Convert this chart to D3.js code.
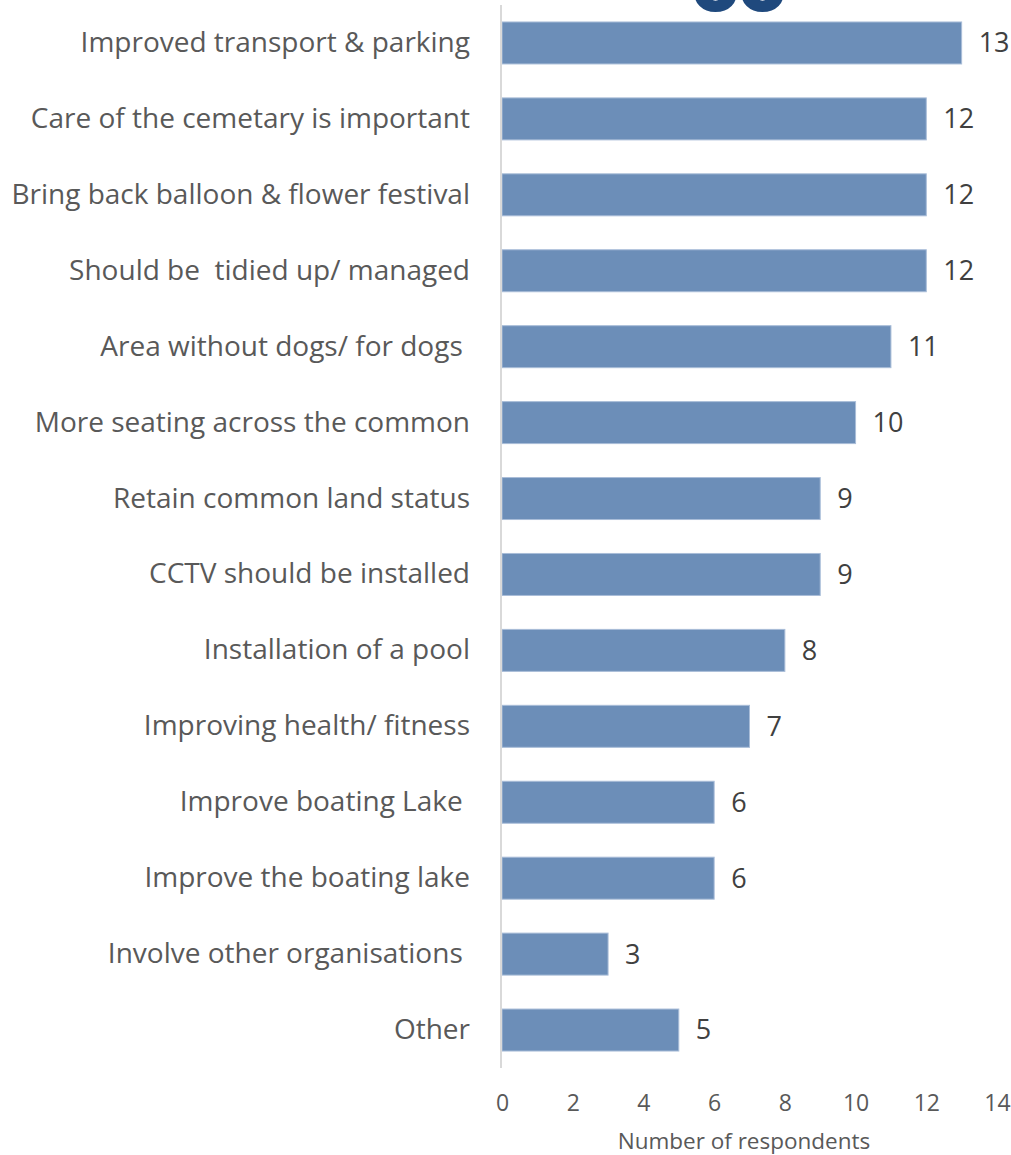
<!DOCTYPE html>
<html>
<head>
<meta charset="utf-8">
<script src="https://cdn.jsdelivr.net/npm/d3@7"></script>
<style>
  html, body { margin: 0; padding: 0; background: #ffffff; }
  svg { display: block; }
  text { font-family: "Open Sans", sans-serif; }
</style>
</head>
<body>
<script>
const categories = [
  "Improved transport & parking",
  "Care of the cemetary is important",
  "Bring back balloon & flower festival",
  "Should be  tidied up/ managed",
  "Area without dogs/ for dogs ",
  "More seating across the common",
  "Retain common land status",
  "CCTV should be installed",
  "Installation of a pool",
  "Improving health/ fitness",
  "Improve boating Lake ",
  "Improve the boating lake",
  "Involve other organisations ",
  "Other"
];
const values = [13, 12, 12, 12, 11, 10, 9, 9, 8, 7, 6, 6, 3, 5];
const xTicks = [0, 2, 4, 6, 8, 10, 12, 14];
const xTitle = "Number of respondents";

const W = 1011, H = 1155;
const svg = d3.select("body").append("svg").attr("width", W).attr("height", H);

// partially visible title glyphs at the top (cut off in the reference)
svg.append("text")
  .attr("x", 737).attr("y", 11)
  .attr("text-anchor", "middle")
  .attr("font-size", 80).attr("font-weight", 800)
  .attr("fill", "#1f497d")
  .attr("letter-spacing", -4)
  .text("oo");

const x = d3.scaleLinear().domain([0, 14]).range([502, 997]);
const y = d3.scaleBand().domain(categories).range([5, 1068]).paddingInner(0.447).paddingOuter(0.2235);

// bars
svg.append("g").selectAll("rect").data(categories).join("rect")
  .attr("x", x(0))
  .attr("y", d => y(d))
  .attr("width", (d, i) => x(values[i]) - x(0))
  .attr("height", y.bandwidth())
  .attr("fill", "#6c8eb8")
  .attr("stroke", "#a9bdd8")
  .attr("stroke-width", 1);

// vertical axis line
svg.append("line")
  .attr("x1", x(0) - 1).attr("x2", x(0) - 1)
  .attr("y1", 5).attr("y2", 1068)
  .attr("stroke", "#d9d9d9").attr("stroke-width", 2);

// category labels
const yAxis = d3.axisLeft(y).tickSize(0).tickPadding(32);
const yg = svg.append("g").attr("transform", `translate(${x(0)},0)`).call(yAxis);
yg.select(".domain").remove();
yg.selectAll("text")
  .attr("font-size", 28)
  .attr("fill", "#595959")
  .attr("font-family", "'Open Sans', sans-serif")
  .style("white-space", "pre")
  .attr("xml:space", "preserve");

// value labels
svg.append("g").selectAll("text").data(categories).join("text")
  .attr("x", (d, i) => x(values[i]) + 17)
  .attr("y", d => y(d) + y.bandwidth() / 2)
  .attr("dy", "0.35em")
  .attr("font-size", 27)
  .attr("fill", "#404040")
  .text((d, i) => values[i]);

// x axis ticks (no line)
const xAxis = d3.axisBottom(x).tickValues(xTicks).tickSize(0).tickPadding(0).tickFormat(d3.format("d"));
const xg = svg.append("g").attr("transform", `translate(0,1103)`).call(xAxis);
xg.select(".domain").remove();
xg.selectAll("text")
  .attr("dy", "0.35em")
  .attr("font-size", 23)
  .attr("fill", "#595959")
  .attr("font-family", "'Open Sans', sans-serif");

// x axis title
svg.append("text")
  .attr("x", 744).attr("y", 1141)
  .attr("dy", "0.35em")
  .attr("text-anchor", "middle")
  .attr("font-size", 22.5)
  .attr("fill", "#595959")
  .text(xTitle);
</script>
</body>
</html>
